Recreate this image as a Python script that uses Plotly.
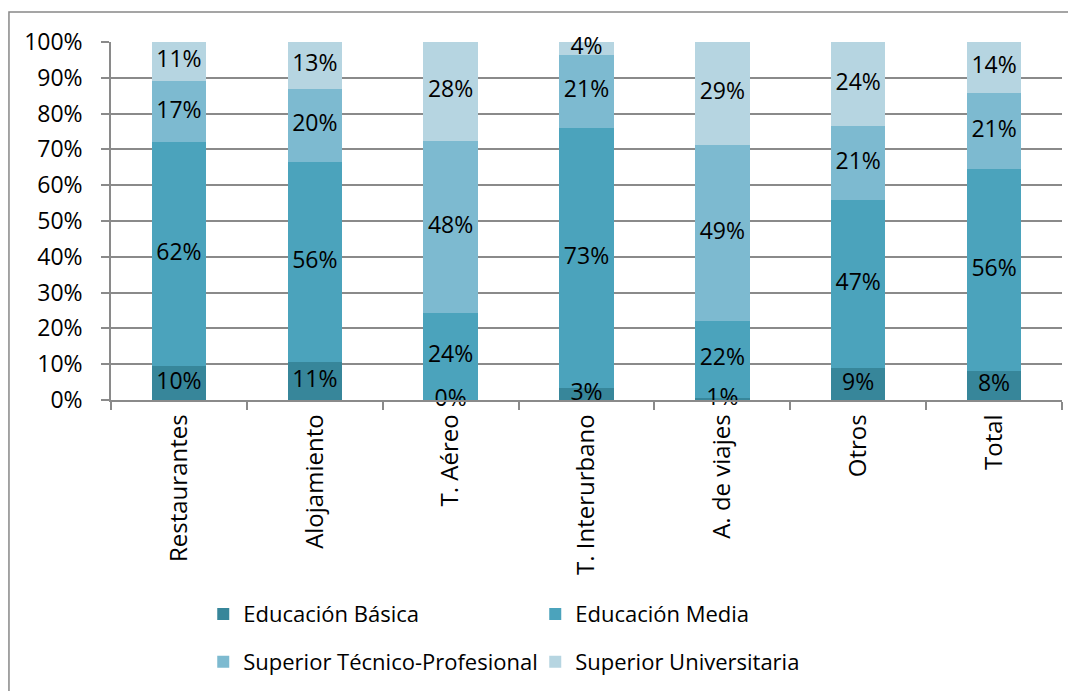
import plotly.graph_objects as go

categories = ["Restaurantes", "Alojamiento", "T. Aéreo", "T. Interurbano",
              "A. de viajes", "Otros", "Total"]

basica = [9.6, 10.6, 0.0, 3.3, 0.6, 8.9, 8.1]
media = [62.4, 56.0, 24.3, 72.6, 21.6, 46.9, 56.4]
tecnico = [17.0, 20.2, 48.0, 20.6, 49.0, 20.6, 21.3]
universitaria = [11.0, 13.2, 27.7, 3.5, 28.8, 23.6, 14.2]

series = [
    ("Educación Básica", basica, "#37869A", "legend"),
    ("Educación Media", media, "#4BA3BC", "legend"),
    ("Superior Técnico-Profesional", tecnico, "#7DBAD0", "legend2"),
    ("Superior Universitaria", universitaria, "#B6D5E1", "legend2"),
]

FONT = "Open Sans"
FS = 23
fig = go.Figure()

# stacked bars
for name, vals, color, leg in series:
    fig.add_trace(go.Bar(
        x=categories, y=vals, name=name, marker_color=color,
        marker_line_width=0, width=0.4, legend=leg,
    ))

# data labels centred in each segment
base = [0] * len(categories)
for name, vals, color, leg in series:
    mids = [b + v / 2 for b, v in zip(base, vals)]
    fig.add_trace(go.Scatter(
        x=categories, y=mids, mode="text",
        text=[f"{v:.0f}%" for v in vals],
        textfont=dict(family=FONT, size=FS, color="black"),
        showlegend=False, cliponaxis=False, hoverinfo="skip",
    ))
    base = [b + v for b, v in zip(base, vals)]

leg_common = dict(
    orientation="h", x=0.097, xanchor="left", yanchor="middle",
    entrywidth=287, entrywidthmode="pixels", traceorder="normal",
    font=dict(family=FONT, size=22), bgcolor="rgba(0,0,0,0)",
)

# page body adds 8px offset, so the figure is 8px smaller
fig.update_layout(
    width=1068, height=683,
    margin=dict(l=103, r=14, t=34, b=291, autoexpand=False),
    barmode="stack",
    plot_bgcolor="white", paper_bgcolor="white",
    font=dict(family=FONT, size=FS, color="black"),
    legend=dict(y=-0.598, **leg_common),
    legend2=dict(y=-0.732, **leg_common),
    shapes=[dict(
        type="rect", xref="paper", yref="paper",
        x0=-0.1073, x1=1.3, y0=-1.5, y1=1.0838,
        line=dict(color="#888888", width=1.5), layer="below",
    )],
)

fig.update_yaxes(
    range=[0, 100], dtick=10, ticksuffix="%", automargin=False,
    showgrid=True, gridcolor="#8a8a8a", gridwidth=1.5,
    showline=True, linecolor="#8a8a8a", linewidth=1.5,
    ticks="outside", ticklen=8, tickcolor="#8a8a8a", tickwidth=1.5,
    ticklabelstandoff=14, zeroline=False,
    tickfont=dict(family=FONT, size=FS),
)
fig.update_xaxes(
    automargin=False,
    showline=True, linecolor="#8a8a8a", linewidth=1.5,
    ticks="outside", tickson="boundaries", ticklen=8,
    tickcolor="#8a8a8a", tickwidth=1.5,
    tickangle=-90, ticklabelstandoff=3,
    tickfont=dict(family=FONT, size=24),
)

fig.write_html("out.html")
